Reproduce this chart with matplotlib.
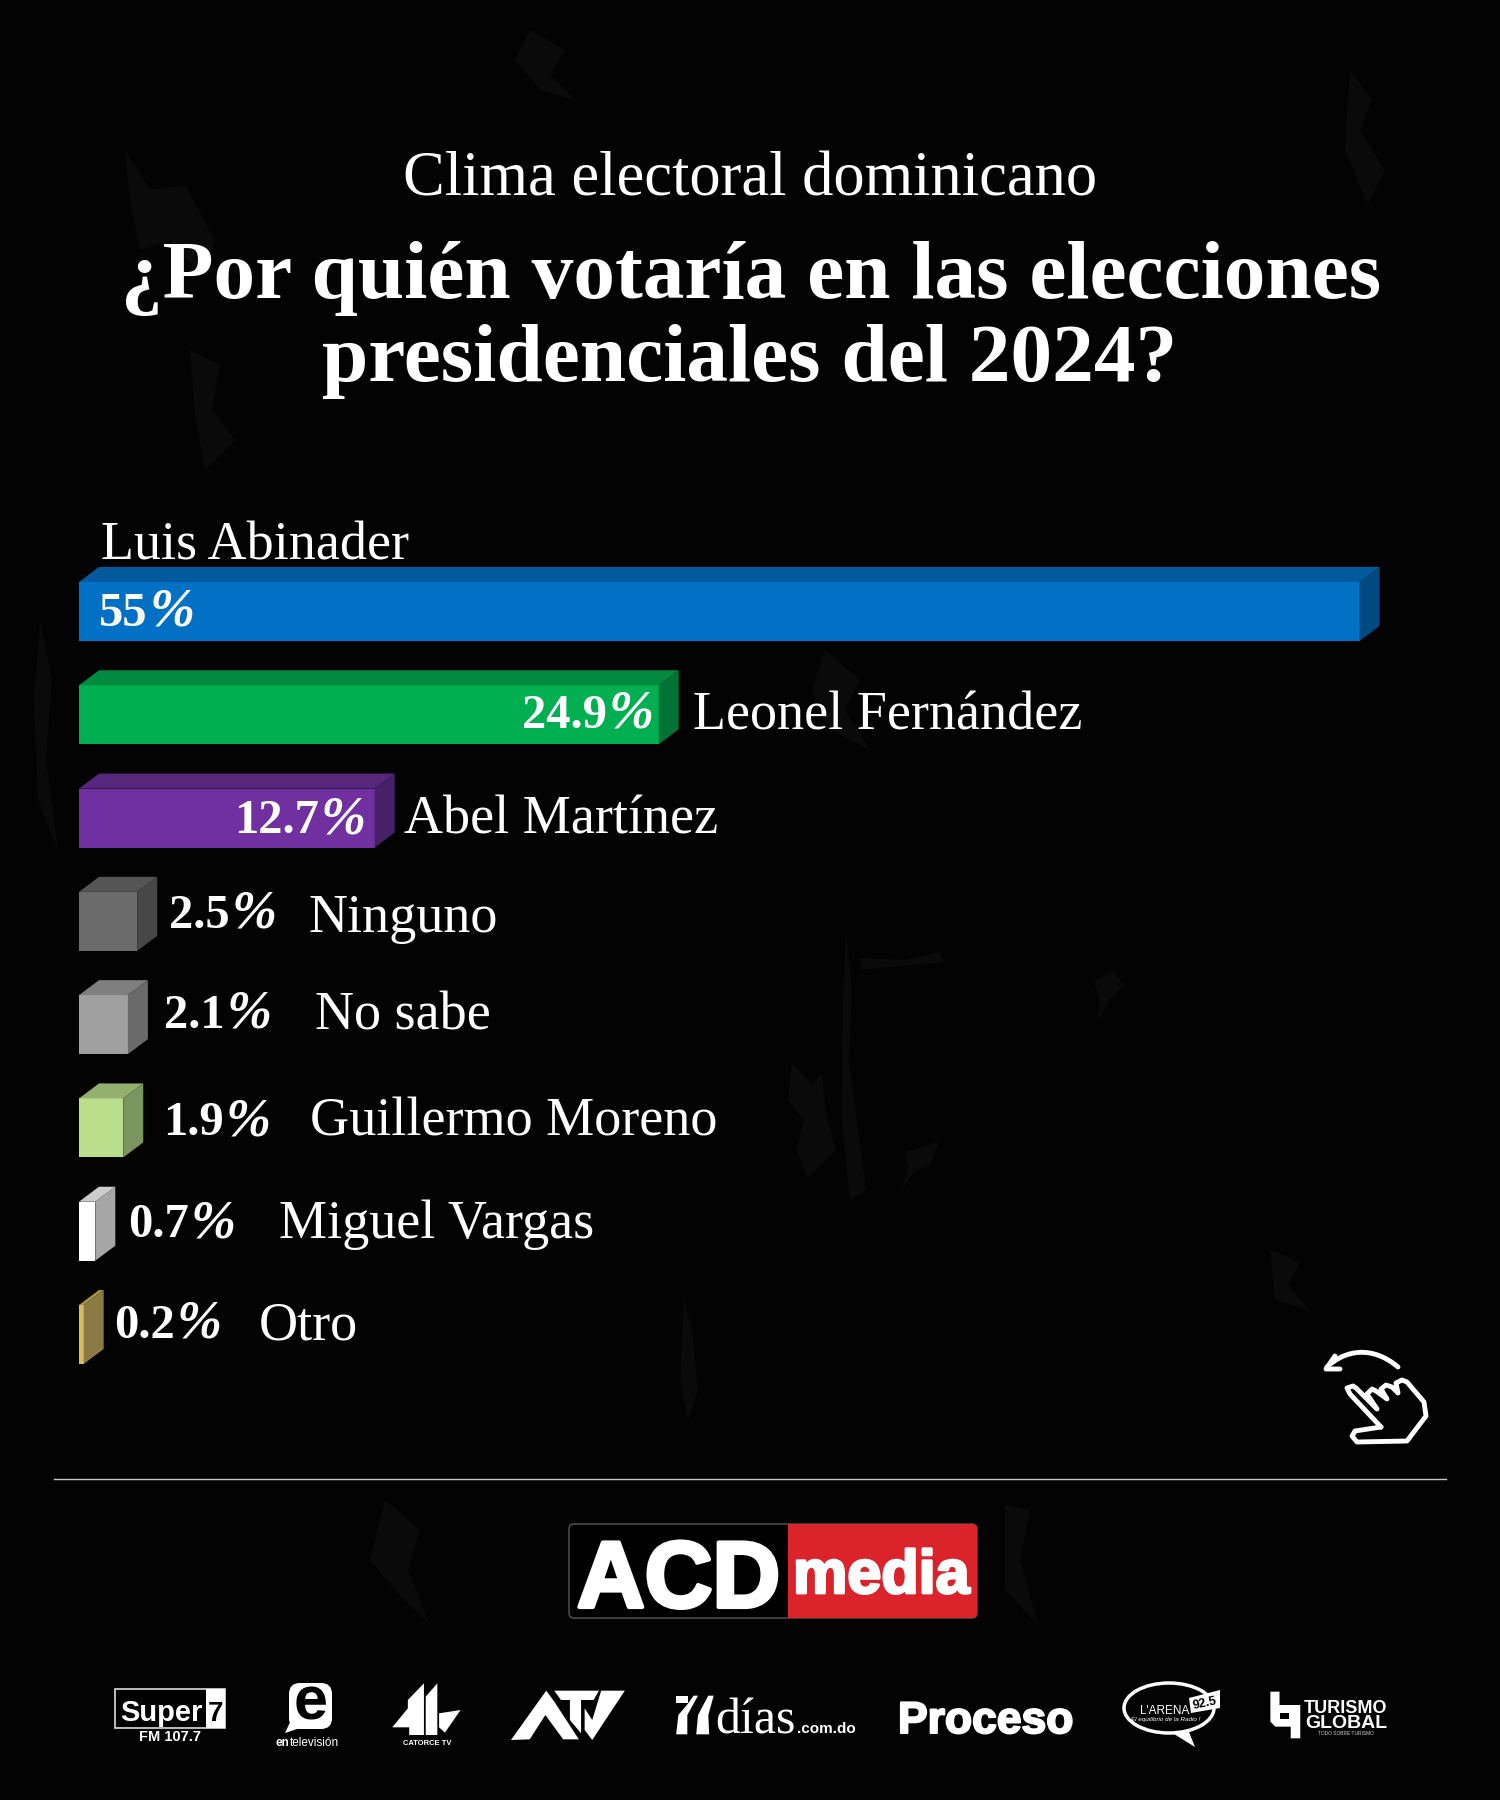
#!/usr/bin/python3

import matplotlib
matplotlib.use("Agg")
import matplotlib.pyplot as plt
import matplotlib.patheffects as pe
from matplotlib.patches import Polygon, FancyBboxPatch, Ellipse, PathPatch, Rectangle
from matplotlib.path import Path

W, H = 1500, 1800
SERIF = "Liberation Serif"
SANS = "Liberation Sans"

names = ["Luis Abinader", "Leonel Fernández", "Abel Martínez", "Ninguno", "No sabe",
         "Guillermo Moreno", "Miguel Vargas", "Otro"]
values = [55, 24.9, 12.7, 2.5, 2.1, 1.9, 0.7, 0.2]
value_labels = ["55", "24.9", "12.7", "2.5", "2.1", "1.9", "0.7", "0.2"]
front_colors = ["#0271c5", "#00b050", "#7030a0", "#6b6b6b", "#a0a0a0", "#bade8c", "#ffffff", "#d9bc62"]
top_colors = ["#025a9c", "#028a40", "#57267d", "#555555", "#7f7f7f", "#93b06f", "#cccccc", "#a99349"]
side_colors = ["#014a80", "#017335", "#47206a", "#474747", "#6a6a6a", "#7b9560", "#a6a6a6", "#8b7a45"]

# where the names and value labels sit, in picture pixels: x, baseline
name_pos = [(101, 559), (693, 729), (404, 834), (309, 932), (315, 1029), (310, 1136), (279, 1238), (259, 1339)]
value_pos = [(99, 626), (522, 728), (234, 833), (169, 928), (164, 1028), (163, 1135), (128, 1237), (114, 1338)]

# faint scratches of the dark background
stains = [
    [(846, 930), (852, 990), (849, 1060), (858, 1130), (866, 1190), (850, 1200), (842, 1120), (843, 1000)],
    [(860, 958), (905, 960), (940, 952), (944, 962), (900, 966), (862, 970)],
    [(792, 1062), (812, 1085), (822, 1072), (826, 1115), (836, 1150), (808, 1178), (796, 1150), (804, 1120), (788, 1100)],
    [(1094, 982), (1112, 970), (1124, 985), (1108, 1002), (1098, 1020), (1100, 1000)],
    [(905, 1152), (938, 1142), (930, 1165), (915, 1170), (902, 1190), (908, 1168)],
    [(125, 150), (150, 190), (185, 185), (215, 240), (200, 275), (170, 240), (140, 250), (130, 200)],
    [(190, 350), (220, 365), (212, 410), (235, 440), (205, 470), (195, 415)],
    [(684, 1300), (692, 1330), (698, 1390), (688, 1420), (680, 1380)],
    [(40, 620), (52, 680), (46, 760), (58, 850), (38, 800), (34, 700)],
    [(1350, 70), (1372, 100), (1360, 130), (1385, 170), (1368, 205), (1345, 150)],
    [(530, 30), (565, 50), (550, 75), (575, 100), (540, 90), (515, 60)],
    [(1270, 1250), (1300, 1262), (1288, 1285), (1310, 1310), (1275, 1300)],
    [(385, 1500), (420, 1530), (408, 1570), (430, 1625), (395, 1590), (370, 1560)],
    [(1005, 1505), (1030, 1510), (1020, 1560), (1038, 1625), (1005, 1590)],
    [(825, 650), (860, 680), (845, 710), (870, 750), (830, 730), (812, 690)],
]

fig = plt.figure(figsize=(15, 18), dpi=100, facecolor="#030303")
page = fig.add_axes([0, 0, 1, 1])
page.set_xlim(0, W)
page.set_ylim(H, 0)
page.axis("off")

for s in stains:
    page.add_patch(Polygon(s, closed=True, fc="#0a0a0a", ec="none"))

# chart axes: 0-55 % from front left edge to front right edge of first bar
chart = fig.add_axes([79 / W, 1 - 1364 / H, (1359.5 - 79) / W, (1364 - 582) / H])
bar_h = 59 / 103.3
chart.set_xlim(0, 55)
chart.set_ylim(7 + bar_h / 2, -bar_h / 2)
chart.axis("off")
chart.patch.set_alpha(0)
dx = 20 * 55 / (1359.5 - 79)
dy = 15 / 103.3

for i, v in enumerate(values):
    y0, y1 = i - bar_h / 2, i + bar_h / 2
    chart.barh(i, v, height=bar_h, color=front_colors[i])
    chart.add_patch(Polygon([(0, y0), (dx, y0 - dy), (v + dx, y0 - dy), (v, y0)],
                            fc=top_colors[i], ec="none", clip_on=False))
    chart.add_patch(Polygon([(v, y0), (v + dx, y0 - dy), (v + dx, y1 - dy), (v, y1)],
                            fc=side_colors[i], ec="none", clip_on=False))

# everything else goes on top of the chart
top = fig.add_axes([0, 0, 1, 1])
top.set_xlim(0, W)
top.set_ylim(H, 0)
top.axis("off")
top.patch.set_alpha(0)


def txt(x, y, s, size, weight="normal", family=SERIF, ha="left", color="white", style="normal", **kw):
    return top.text(x, y, s, fontsize=size, fontweight=weight, family=family, ha=ha, va="baseline",
                    color=color, fontstyle=style, **kw)


def poly(points, x0, y0, sx, sy, color="white"):
    # points come from a zoomed crop, map them back to picture pixels
    top.add_patch(Polygon([(x0 + px / sx, y0 + py / sy) for px, py in points], fc=color, ec="none"))


txt(750, 196, "Clima electoral dominicano", 45, ha="center")
txt(751, 298, "¿Por quién votaría en las elecciones", 60, weight="bold", ha="center")
txt(750, 381, "presidenciales del 2024?", 60, weight="bold", ha="center")

renderer = fig.canvas.get_renderer()
for i, n in enumerate(names):
    txt(name_pos[i][0], name_pos[i][1], n, 39)
    t = txt(value_pos[i][0], value_pos[i][1], value_labels[i], 35, weight="bold")
    box = t.get_window_extent(renderer)
    txt(box.x1 + 2, value_pos[i][1], "%", 39, style="italic", weight="bold")

top.plot([54, 1446], [1478.5, 1478.5], color="#c8c8c8", lw=1)

# swipe icon
arrow = Path([(1398, 1367), (1372, 1345), (1345, 1350), (1327, 1367)],
             [Path.MOVETO, Path.CURVE4, Path.CURVE4, Path.CURVE4])
top.add_patch(PathPatch(arrow, fc="none", ec="white", lw=3.5, capstyle="round"))
top.plot([1335, 1326, 1340], [1356, 1369, 1369], color="white", lw=3.5, solid_capstyle="round",
         solid_joinstyle="round")
hand_x = [1381, 1350, 1347, 1353, 1356, 1377, 1367, 1372, 1376, 1387, 1381, 1386, 1392, 1398, 1396, 1402,
          1407, 1424, 1426, 1407, 1357, 1352, 1355, 1381]
hand_y = [1427, 1394, 1388, 1386, 1388, 1409, 1394, 1389, 1391, 1399, 1389, 1385, 1387, 1393, 1383, 1380,
          1382, 1402, 1416, 1441, 1442, 1436, 1431, 1427]
top.plot(hand_x, hand_y, color="white", lw=3.5, solid_joinstyle="round", solid_capstyle="round")

# ACD media
top.add_patch(FancyBboxPatch((569, 1524), 408, 94, boxstyle="round,pad=0,rounding_size=5",
                             fc="black", ec="#555555", lw=1))
top.add_patch(FancyBboxPatch((788, 1524), 189, 94, boxstyle="round,pad=0,rounding_size=5",
                             fc="#da232b", ec="none"))
top.add_patch(Rectangle((788, 1524), 10, 94, fc="#da232b", ec="none"))
txt(577, 1607, "ACD", 67.5, weight="bold", family=SANS,
    path_effects=[pe.withStroke(linewidth=3, foreground="white")])
txt(793, 1593, "media", 44, weight="bold", family=SANS,
    path_effects=[pe.withStroke(linewidth=2, foreground="white")])

# Super 7
top.add_patch(Rectangle((115, 1689), 110, 39, fc="black", ec="#dddddd", lw=1.2))
top.add_patch(Rectangle((206, 1689), 19, 39, fc="white", ec="none"))
txt(120, 1721, "Super", 21, weight="bold", family=SANS)
txt(215.5, 1721, "7", 20, weight="bold", family=SANS, ha="center", color="black")
txt(170, 1741, "FM 107.7", 10.5, weight="bold", family=SANS, ha="center")

# en television
top.add_patch(FancyBboxPatch((289, 1683), 43, 46, boxstyle="round,pad=0,rounding_size=11", fc="white", ec="none"))
top.add_patch(Polygon([(292, 1718), (285, 1733), (303, 1727)], fc="white", ec="none"))
txt(310.5, 1719, "e", 44, weight="bold", family=SANS, ha="center", color="black")
txt(275, 1746.5, "en", 8.5, weight="bold", family=SANS)
txt(290, 1746.5, "televisión", 8.5, family=SANS)

# Catorce TV
sx, sy = 1568 / 700, 3
poly([(712, 150), (748, 100), (748, 255), (715, 255), (715, 232), (677, 232), (712, 175)], 90, 1650, sx, sy)
poly([(752, 140), (778, 100), (778, 255), (752, 255)], 90, 1650, sx, sy)
poly([(782, 190), (830, 180), (795, 248), (782, 232)], 90, 1650, sx, sy)
txt(427, 1745, "CATORCE TV", 5.5, weight="bold", family=SANS, ha="center")

# ATV
poly([(943, 270), (1022, 122), (1040, 155), (1095, 268), (1060, 268), (1020, 195), (985, 268)], 90, 1650, sx, sy)
poly([(1040, 122), (1140, 122), (1128, 150), (1100, 150), (1100, 250), (1075, 210), (1075, 150), (1055, 150)],
     90, 1650, sx, sy)
poly([(1145, 122), (1198, 122), (1125, 270), (1108, 240), (1108, 175), (1125, 210)], 90, 1650, sx, sy)

# 7dias
poly([(1313, 137), (1340, 137), (1340, 160), (1313, 160)], 90, 1650, sx, sy)
poly([(1313, 253), (1318, 195), (1340, 160), (1352, 137), (1362, 137), (1338, 195), (1338, 253)], 90, 1650, sx, sy)
poly([(1358, 253), (1362, 195), (1385, 137), (1397, 137), (1385, 195), (1387, 253)], 90, 1650, sx, sy)
txt(715, 1733, "días", 36)
txt(797, 1733, ".com.do", 11, weight="bold", family=SANS)

# Proceso
txt(898, 1733, "Proceso", 32, weight="bold", family=SANS,
    path_effects=[pe.withStroke(linewidth=1.5, foreground="white")])

# L'Arena
top.add_patch(Ellipse((1169, 1708), 90, 50, fc="none", ec="white", lw=2.5))
top.add_patch(Polygon([(1174, 1734), (1195, 1747), (1189, 1732)], fc="white", ec="none"))
txt(1140, 1714, "L'ARENA", 8.5, family=SANS)
top.add_patch(Polygon([(1189, 1698), (1220, 1690), (1220, 1708), (1191, 1713)], fc="white", ec="none"))
txt(1205, 1709, "92.5", 9, weight="bold", family=SANS, ha="center", color="black", rotation=12)
txt(1166, 1721, "El equilibrio de la Radio !", 4.5, family=SANS, ha="center", style="italic")

# Turismo Global
poly([(1183, 125), (1205, 125), (1205, 165), (1255, 165), (1255, 265), (1232, 265), (1232, 230), (1195, 230),
      (1183, 215)], 780, 1650, 1568 / 650, 3)
poly([(1207, 188), (1228, 188), (1228, 207), (1207, 207)], 780, 1650, 1568 / 650, 3, color="black")
txt(1346, 1713, "TURISMO", 13, weight="bold", family=SANS, ha="center")
txt(1346, 1728, "GLOBAL", 14, weight="bold", family=SANS, ha="center")
txt(1346, 1735, "TODO SOBRE TURISMO", 3.5, family=SANS, ha="center", color="#cccccc")

fig.savefig("out.png", dpi=100, facecolor=fig.get_facecolor())
